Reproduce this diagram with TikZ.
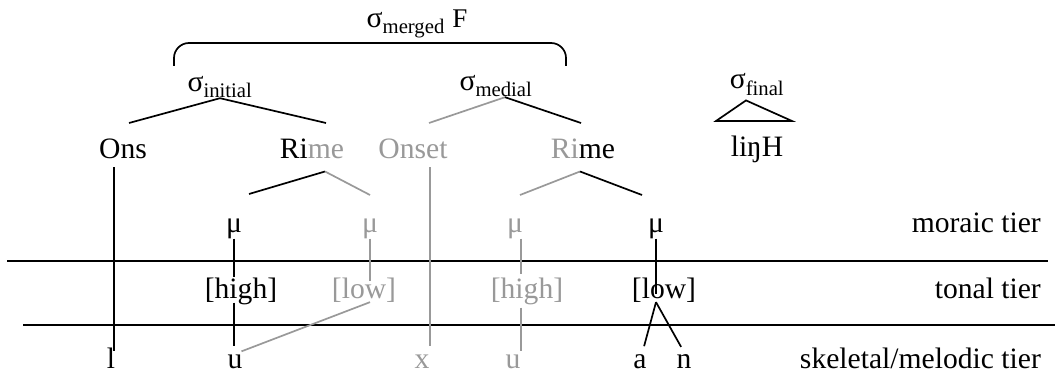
\documentclass[tikz,border=0pt]{standalone}
\usepackage{fontspec}
\setmainfont{Liberation Serif}
\usepackage{xcolor}
\definecolor{faded}{gray}{0.6}

\begin{document}
\begin{tikzpicture}[x=1pt, y=-1pt,
    font=\fontsize{29.6}{35}\selectfont,
    every node/.style={inner sep=0pt, anchor=base},
    assoc/.style={line width=1.7pt},
    fassoc/.style={assoc, draw=faded},
    tierline/.style={line width=2pt},
    tiername/.style={anchor=base east}]
  \useasboundingbox (0,0) rectangle (1055,377);
  % syllables
  \node (merged) at (417,28) {σ\textsubscript{merged} {\fontsize{27}{32}\selectfont F}};
  \node (sigIni) at (220,92) {σ\textsubscript{initial}};
  \node (sigMed) at (496,91) {σ\textsubscript{medial}};
  \node (sigFin) at (757,89) {σ\textsubscript{final}};
  \node (ons) at (123,158) {Ons};
  \node (rimeA) at (312,158) {Ri\textcolor{faded}{me}};
  \node[faded] (onset) at (413,158) {Onset};
  \node (rimeB) at (583,158) {\textcolor{faded}{Ri}me};
  \node (ling) at (757,157) {liŋH};
  % tiers
  \node (muA) at (234,232) {μ};
  \node[faded] (muB) at (370,232) {μ};
  \node[faded] (muC) at (515,232) {μ};
  \node (muD) at (656,232) {μ};
  \node (highA) at (241,298) {[high]};
  \node[faded] (lowB) at (364,298) {[low]};
  \node[faded] (highC) at (527,298) {[high]};
  \node (lowD) at (664,298) {[low]};
  \node (l) at (111,368) {l};
  \node (uA) at (235,368) {u};
  \node[faded] (x) at (422,368) {x};
  \node[faded] (uC) at (513,368) {u};
  \node (a) at (640,368) {a};
  \node (n) at (684,368) {n};
  \node[tiername] (moraic) at (1041,232) {moraic tier};
  \node[tiername] (tonal) at (1041,298) {tonal tier};
  \node[tiername] (skel) at (1041,368) {skeletal/melodic tier};
  \draw[tierline] (7,261) -- (1048,261);
  \draw[tierline] (23,325) -- (1055,325);
  % brace and forks
  \draw[assoc, rounded corners=15pt] (174,66) -- (174,43) -- (566,43) -- (566,66);
  \coordinate (iniL) at (129,123);
  \coordinate (iniR) at (326,123);
  \coordinate (medL) at (429,123);
  \coordinate (medR) at (581,123);
  \draw[assoc] (iniL) -- (sigIni.south) -- (iniR);
  \draw[fassoc] (medL) -- (sigMed.south -| 505,0);
  \draw[assoc] (sigMed.south -| 505,0) -- (medR);
  \draw[assoc] (716,121) -- ([yshift=-5pt]sigFin.south -| 746,0) -- (792,121) -- cycle;
  \coordinate (rimeAL) at (249,194);
  \coordinate (rimeAR) at (370,195);
  \coordinate (rimeBL) at (520,195);
  \coordinate (rimeBR) at (642,195);
  \draw[assoc] (rimeAL) -- ([yshift=-13pt]rimeA.south -| 325,0);
  \draw[fassoc] ([yshift=-13pt]rimeA.south -| 325,0) -- (rimeAR);
  \draw[fassoc] (rimeBL) -- ([yshift=-13pt]rimeB.south -| 580,0);
  \draw[assoc] ([yshift=-13pt]rimeB.south -| 580,0) -- (rimeBR);
  % associations
  \draw[assoc, shorten <=9pt, shorten >=-4pt] (ons.south -| 114,0) -- (l.north -| 114,0);
  \draw[fassoc, shorten <=9pt, shorten >=8pt] (onset.south -| 430,0) -- (x.north -| 430,0);
  \draw[assoc] (muA.south) -- (muA.south |- highA.north);
  \draw[assoc, shorten <=-2pt, shorten >=8pt] (highA.south -| muA) -- (uA.north -| muA);
  \draw[fassoc, shorten <=8pt] (uA.north -| muA) -- (lowB.south -| muB);
  \draw[fassoc, shorten >=-4pt] (muB.south) -- (muB.south |- lowB.north);
  \draw[fassoc, shorten >=3pt] (muC.south -| 521,0) -- (highC.north -| 521,0);
  \draw[fassoc, shorten <=3pt, shorten >=3pt] (highC.south -| 521,0) -- (uC.north -| 521,0);
  \draw[assoc, shorten >=-17pt] (muD.south) -- (muD.south |- lowD.north);
  \draw[assoc, shorten >=8pt] (lowD.south -| muD) -- (a.north -| 642,0);
  \draw[assoc, shorten >=8pt] (lowD.south -| muD) -- (n.north -| 685,0);
\end{tikzpicture}
\end{document}
